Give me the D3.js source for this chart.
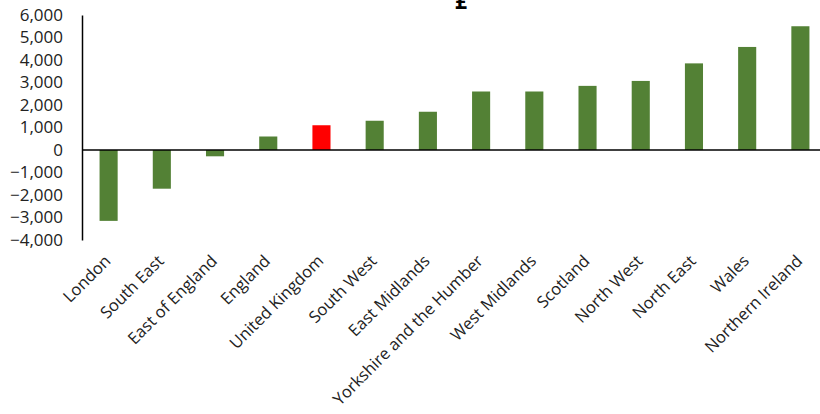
<!DOCTYPE html>
<html><head><meta charset="utf-8">
<script src="https://cdn.jsdelivr.net/npm/d3@7"></script>
<style>body{margin:0;background:#fff}svg{display:block}</style>
</head><body>
<svg id="c" width="820" height="414"></svg>
<script>
const categories = ["London","South East","East of England","England","United Kingdom","South West","East Midlands","Yorkshire and the Humber","West Midlands","Scotland","North West","North East","Wales","Northern Ireland"];
const values = [-3150,-1720,-280,600,1100,1300,1700,2600,2600,2850,3070,3850,4580,5500];
const highlight = ["United Kingdom"];
const yTicks = [-4000,-3000,-2000,-1000,0,1000,2000,3000,4000,5000,6000];
const title = "£";

const svg = d3.select("#c");
const font = "'Open Sans', sans-serif";
const x = d3.scaleBand().domain(categories).range([82, 827]).paddingInner(0.66).paddingOuter(0.33);
const y = d3.scaleLinear().domain([-4000, 6000]).range([240, 15]);

svg.append("text").attr("x", 461).attr("y", 9).attr("text-anchor","middle")
  .attr("font-family", "'DejaVu Sans Mono', monospace").attr("font-weight","bold").attr("font-size", 22).text(title);

svg.selectAll("rect.bar").data(categories).join("rect").attr("class","bar")
  .attr("x", d => x(d)).attr("width", x.bandwidth())
  .attr("y", (d,i) => y(Math.max(0, values[i])))
  .attr("height", (d,i) => Math.abs(y(values[i]) - y(0)))
  .attr("fill", d => highlight.includes(d) ? "#ff0000" : "#538135");

const ya = svg.append("g").attr("transform","translate(82,0)")
  .call(d3.axisLeft(y).tickValues(yTicks).tickSize(0).tickPadding(19).tickFormat(d3.format(",")));
ya.select(".domain").attr("stroke","#000").attr("stroke-width",1.5);
ya.selectAll("text").attr("font-family", font).attr("font-size", 17).attr("fill","#222");

svg.append("line").attr("x1",82).attr("x2",820).attr("y1",y(0)).attr("y2",y(0))
  .attr("stroke","#000").attr("stroke-width",1.5);

svg.selectAll("text.cat").data(categories).join("text").attr("class","cat")
  .attr("transform", d => `translate(${x(d)+x.bandwidth()/2+3},${262}) rotate(-45)`)
  .attr("text-anchor","end").attr("font-family", font).attr("font-size", 16.5).attr("fill","#222")
  .text(d => d);
</script>
</body></html>
